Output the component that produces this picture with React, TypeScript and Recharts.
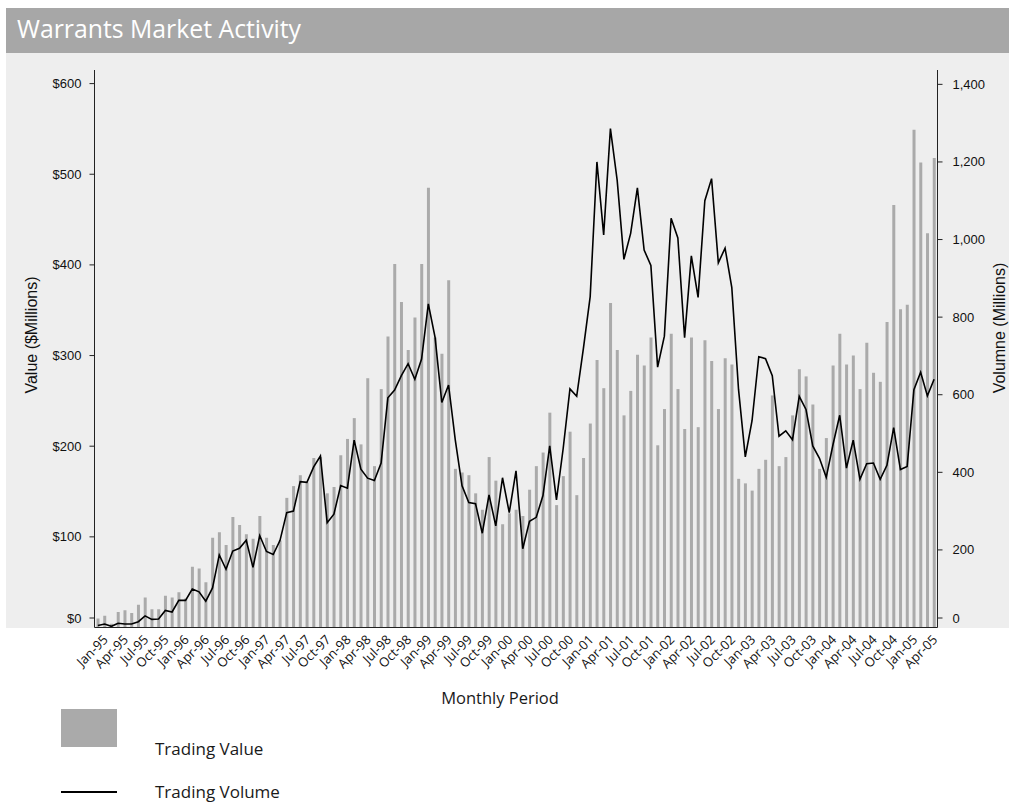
import React from 'react';
import { ComposedChart, Bar, Line, XAxis, YAxis, Label } from 'recharts';

const months: string[] = [
  'Jan-95','Feb-95','Mar-95','Apr-95','May-95','Jun-95','Jul-95','Aug-95','Sep-95','Oct-95','Nov-95','Dec-95',
  'Jan-96','Feb-96','Mar-96','Apr-96','May-96','Jun-96','Jul-96','Aug-96','Sep-96','Oct-96','Nov-96','Dec-96',
  'Jan-97','Feb-97','Mar-97','Apr-97','May-97','Jun-97','Jul-97','Aug-97','Sep-97','Oct-97','Nov-97','Dec-97',
  'Jan-98','Feb-98','Mar-98','Apr-98','May-98','Jun-98','Jul-98','Aug-98','Sep-98','Oct-98','Nov-98','Dec-98',
  'Jan-99','Feb-99','Mar-99','Apr-99','May-99','Jun-99','Jul-99','Aug-99','Sep-99','Oct-99','Nov-99','Dec-99',
  'Jan-00','Feb-00','Mar-00','Apr-00','May-00','Jun-00','Jul-00','Aug-00','Sep-00','Oct-00','Nov-00','Dec-00',
  'Jan-01','Feb-01','Mar-01','Apr-01','May-01','Jun-01','Jul-01','Aug-01','Sep-01','Oct-01','Nov-01','Dec-01',
  'Jan-02','Feb-02','Mar-02','Apr-02','May-02','Jun-02','Jul-02','Aug-02','Sep-02','Oct-02','Nov-02','Dec-02',
  'Jan-03','Feb-03','Mar-03','Apr-03','May-03','Jun-03','Jul-03','Aug-03','Sep-03','Oct-03','Nov-03','Dec-03',
  'Jan-04','Feb-04','Mar-04','Apr-04','May-04','Jun-04','Jul-04','Aug-04','Sep-04','Oct-04','Nov-04','Dec-04',
  'Jan-05','Feb-05','Mar-05','Apr-05','May-05',
];

// Trading value, $ millions
const tradingValue: number[] = [
  10, 13, 4, 17, 19, 16, 25, 33, 20, 20,
  35, 33, 39, 32, 67, 65, 50, 99, 105, 91,
  122, 113, 103, 98, 123, 99, 91, 96, 143, 156,
  168, 160, 187, 188, 148, 155, 190, 208, 231, 202,
  275, 178, 263, 321, 401, 359, 306, 342, 401, 485,
  320, 302, 383, 175, 171, 168, 148, 130, 188, 162,
  114, 126, 130, 123, 152, 178, 193, 237, 135, 167,
  216, 146, 187, 225, 295, 264, 358, 306, 234, 261,
  301, 289, 320, 201, 241, 324, 263, 219, 320, 221,
  317, 294, 241, 297, 290, 164, 159, 151, 175, 185,
  256, 178, 188, 234, 285, 277, 246, 175, 209, 289,
  324, 290, 300, 263, 314, 281, 271, 337, 466, 351,
  356, 549, 513, 435, 518,
];

// Trading volume, millions
const tradingVolume: number[] = [
  5, 9, 3, 11, 9, 9, 15, 30, 21, 22,
  44, 40, 70, 70, 99, 92, 68, 102, 187, 150,
  197, 204, 225, 155, 237, 196, 188, 224, 296, 300,
  376, 374, 414, 442, 270, 292, 366, 359, 483, 408,
  385, 379, 424, 592, 612, 649, 680, 640, 692, 834,
  748, 580, 625, 483, 365, 322, 319, 243, 342, 262,
  386, 296, 404, 203, 274, 284, 340, 468, 329, 462,
  615, 596, 720, 853, 1200, 1012, 1286, 1153, 949, 1016,
  1133, 973, 933, 671, 751, 1055, 1004, 747, 958, 851,
  1100, 1157, 940, 978, 876, 613, 440, 533, 698, 693,
  649, 493, 507, 484, 596, 562, 468, 436, 387, 471,
  547, 411, 483, 382, 422, 424, 382, 418, 515, 407,
  415, 613, 658, 597, 640,
];

const valueTicks: number[] = [0, 100, 200, 300, 400, 500, 600];
const volumeTicks: number[] = [0, 200, 400, 600, 800, 1000, 1200, 1400];

const data = months.map((m, i) => ({ month: m, value: tradingValue[i], volume: tradingVolume[i] }));

const HUMANIST = "'Open Sans', 'Noto Sans', sans-serif";
const ARIAL = "'Liberation Sans', Arial, sans-serif";

const XTick = (props: any) => {
  const { x, y, payload } = props;
  const ax = x + 11;
  const ay = y + 5;
  return (
    <text x={ax} y={ay} transform={`rotate(-45 ${ax} ${ay})`} textAnchor="end"
      fontFamily={HUMANIST} fontSize={13} fill="#111">{payload.value}</text>
  );
};

const LeftTick = (props: any) => {
  const { x, y, payload } = props;
  const yy = payload.value === 0 ? y - 9.5 : y;
  return (
    <g>
      <line x1={x + 8} x2={x + 13} y1={yy} y2={yy} stroke="#222" strokeWidth={1} />
      <text x={x} y={yy} dy="0.35em" textAnchor="end" fontFamily={ARIAL} fontSize={13} fill="#111">{'$' + payload.value}</text>
    </g>
  );
};

const RightTick = (props: any) => {
  const { x, y, payload } = props;
  const yy = payload.value === 0 ? y - 9.5 : y;
  return (
    <g>
      <line x1={x - 13} x2={x - 8} y1={yy} y2={yy} stroke="#222" strokeWidth={1} />
      <text x={x + 2} y={yy} dy="0.35em" textAnchor="start" fontFamily={ARIAL} fontSize={13} fill="#111">{Number(payload.value).toLocaleString('en-US')}</text>
    </g>
  );
};

export default function App() {
  return (
    <div style={{ position: 'absolute', left: 0, top: 0, width: 1009, height: 810, background: '#ffffff', overflow: 'hidden' }}>
      <div style={{ position: 'absolute', left: 6, top: 8, width: 1003, height: 45, background: '#a7a7a7' }} />
      <div style={{ position: 'absolute', left: 6, top: 53, width: 1003, height: 575, background: '#eeeeee' }} />
      <svg style={{ position: 'absolute', left: 0, top: 0 }} width={1009} height={60}>
        <text x={17} y={37.5} fontFamily={HUMANIST} fontSize={24.8} fill="#ffffff">Warrants Market Activity</text>
      </svg>
      <div style={{ position: 'absolute', left: 0, top: 0 }}>
        <ComposedChart width={1009} height={810} data={data}
          margin={{ top: 70, right: 11.5, bottom: 122.5, left: 34.5 }}>
          <XAxis dataKey="month" interval={2} tickLine={false} height={60}
            axisLine={{ stroke: '#222', strokeWidth: 1 }} tick={<XTick />}>
            <Label content={(p: any) => {
              const vb = p.viewBox || { x: 0, y: 0, width: 0 };
              return (
                <text x={vb.x + vb.width / 2 - 16} y={vb.y + 76} textAnchor="middle"
                  fontFamily={HUMANIST} fontSize={16.5} fill="#1a1a1a">Monthly Period</text>
              );
            }} />
          </XAxis>
          <YAxis yAxisId="left" orientation="left" width={60} domain={[0, 615]} ticks={valueTicks}
            allowDataOverflow tickSize={5} tickMargin={8} tickLine={false}
            axisLine={{ stroke: '#222', strokeWidth: 1 }} tick={<LeftTick />}>
            <Label content={() => (
              <text x={37} y={335} transform="rotate(-90 37 335)" textAnchor="middle"
                fontFamily={ARIAL} fontSize={16} fill="#111">Value ($Millions)</text>
            )} />
          </YAxis>
          <YAxis yAxisId="right" orientation="right" width={60} domain={[0, 1437]} ticks={volumeTicks}
            allowDataOverflow tickSize={5} tickMargin={8} tickLine={false}
            axisLine={{ stroke: '#222', strokeWidth: 1 }} tick={<RightTick />}>
            <Label content={() => (
              <text x={1005} y={328} transform="rotate(-90 1005 328)" textAnchor="middle"
                fontFamily={ARIAL} fontSize={16} fill="#111">Volumne (Millions)</text>
            )} />
          </YAxis>
          <Bar yAxisId="left" dataKey="value" name="Trading Value" fill="#aaaaaa" barSize={3} isAnimationActive={false} />
          <Line yAxisId="right" dataKey="volume" name="Trading Volume" type="linear" stroke="#000000"
            strokeWidth={1.6} dot={false} activeDot={false} isAnimationActive={false} />
        </ComposedChart>
      </div>
      <svg style={{ position: 'absolute', left: 0, top: 640 }} width={400} height={170}>
        <rect x={61} y={69} width={56} height={38} fill="#aaaaaa" />
        <text x={155} y={115} fontFamily={HUMANIST} fontSize={17} fill="#1a1a1a">Trading Value</text>
        <line x1={61} x2={117} y1={152} y2={152} stroke="#000" strokeWidth={2} />
        <text x={155} y={158} fontFamily={HUMANIST} fontSize={17} fill="#1a1a1a">Trading Volume</text>
      </svg>
    </div>
  );
}
